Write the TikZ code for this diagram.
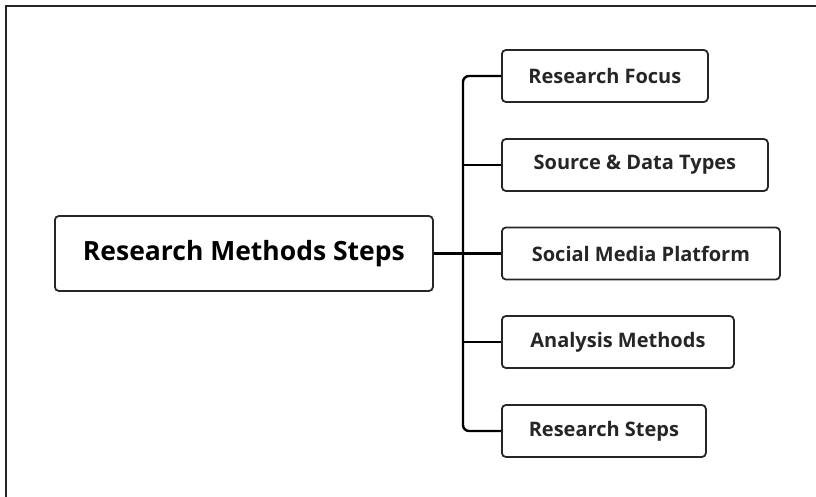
\documentclass[tikz,border=0pt]{standalone}
\usepackage{fontspec}
\setmainfont{Open Sans}
\begin{document}
\begin{tikzpicture}[x=1pt,y=-1pt,
  box/.style={draw=black!85, line width=1.8pt, rounded corners=4pt, inner sep=0pt, text=black!85, font=\bfseries\fontsize{20}{24}\selectfont, minimum height=52pt, anchor=west},
  mainbox/.style={box, font=\bfseries\fontsize{26.5}{30}\selectfont, minimum height=75pt, minimum width=378pt},
  conn/.style={draw=black, line width=2.4pt},
  frame/.style={draw=black!85, line width=2pt}]
\useasboundingbox (0,0) rectangle (816,497);
\coordinate (fa) at (6,497);
\coordinate (fb) at (6,6);
\coordinate (fc) at (816,6);
\draw[frame] (fa) -- (fb) -- (fc);
\node[mainbox, text=black] (main) at (54,253.5) {Research Methods Steps};
\node[box, minimum width=206pt] (rf) at (501,76) {Research Focus};
\node[box, minimum width=266pt] (sd) at (501,165) {Source \& Data Types};
\node[box, minimum width=278pt] (sm) at (501,253.5) {Social Media Platform};
\node[box, minimum width=232pt] (am) at (501,342) {Analysis Methods};
\node[box, minimum width=204pt] (rs) at (501,431) {Research Steps};
\coordinate (trunk) at (463,253);
\draw[conn, rounded corners=6pt] (rf.west) -- (rf.west -| trunk) -- (rs.west -| trunk) -- (rs.west);
\draw[conn] (sd.west -| trunk) -- (sd.west);
\draw[conn] (am.west -| trunk) -- (am.west);
\draw[conn] (main.east) -- (sm.west);
\end{tikzpicture}
\end{document}
